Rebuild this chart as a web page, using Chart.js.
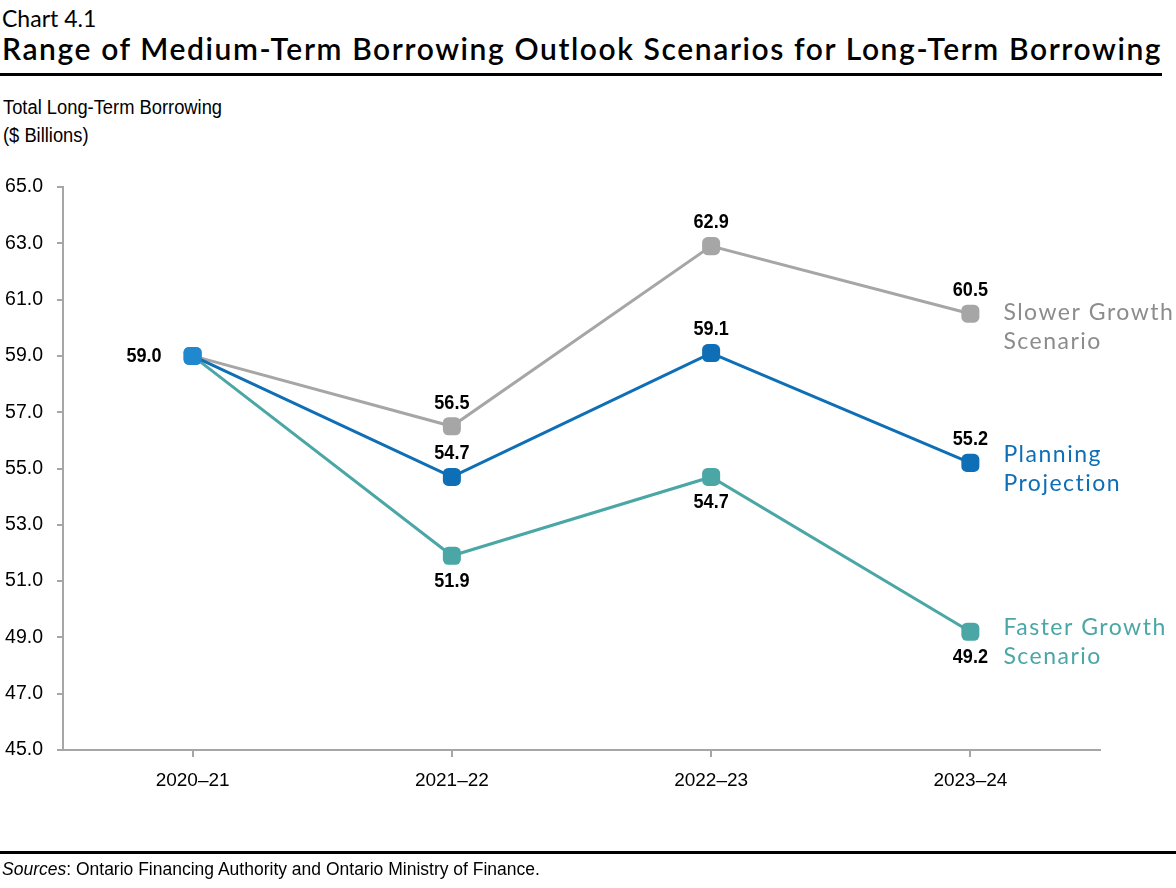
<!DOCTYPE html>
<html>
<head>
    <title>Chart 4.1</title>
    <script src="https://cdn.jsdelivr.net/npm/chart.js@4"></script>
    <style>
        body { margin: 0; background: #fff; font-family: "Liberation Sans", Arial, sans-serif; }
        .page { position: relative; width: 1176px; height: 888px; overflow: hidden; }
        .num { position: absolute; left: 2px; top: 4px; font-family: Lato, "Open Sans", sans-serif; font-size: 23px; color: #000; }
        .title { position: absolute; left: 2px; top: 30px; font-family: Lato, "Open Sans", sans-serif; font-size: 30px; letter-spacing: 1.6px; font-weight: 600; color: #000; white-space: nowrap; }
        .rule { position: absolute; left: 0; width: 1162px; height: 3px; background: #000; }
        .ylab { position: absolute; left: 3px; top: 93px; font-size: 19.5px; line-height: 28px; color: #000; transform: scaleX(0.94); transform-origin: left; }
        .src { position: absolute; left: 2px; top: 859px; font-size: 17.5px; color: #000; }
        .chart-box { position: absolute; left: 0; top: 0; width: 1176px; height: 888px; }
    </style>
</head>
<body>
<div class="page">
    <div class="num">Chart 4.1</div>
    <div class="title">Range of Medium-Term Borrowing Outlook Scenarios for Long-Term Borrowing</div>
    <div class="rule" style="top:73px"></div>
    <div class="ylab">Total Long-Term Borrowing<br>($ Billions)</div>
    <div class="chart-box"><canvas id="lineChart"></canvas></div>
    <div class="rule" style="top:851px; width:1176px"></div>
    <div class="src"><i>Sources</i>: Ontario Financing Authority and Ontario Ministry of Finance.</div>
</div>

<script>
    // data
    const years = ['2020\u201321', '2021\u201322', '2022\u201323', '2023\u201324'];
    const planning = [59.0, 54.7, 59.1, 55.2];
    const slower = [59.0, 56.5, 62.9, 60.5];
    const faster = [59.0, 51.9, 54.7, 49.2];
    const yTicks = [45, 47, 49, 51, 53, 55, 57, 59, 61, 63, 65];

    // value labels next to points and series names at the right end
    const labelPlugin = {
        id: 'labels',
        afterDatasetsDraw(chart) {
            const ctx = chart.ctx;
            chart.data.datasets.forEach((ds, i) => {
                const meta = chart.getDatasetMeta(i);
                meta.data.forEach((pt, j) => {
                    const pos = ds.labelPos[j];
                    if (!pos) return;
                    let x = pt.x, y = pt.y;
                    ctx.save();
                    ctx.font = 'bold 21px "Liberation Sans", Arial, sans-serif';
                    ctx.fillStyle = '#000';
                    if (pos === 'above') { ctx.textAlign = 'center'; ctx.textBaseline = 'bottom'; y -= 13; }
                    else if (pos === 'below') { ctx.textAlign = 'center'; ctx.textBaseline = 'top'; y += 15; }
                    else if (pos === 'left') { ctx.textAlign = 'right'; ctx.textBaseline = 'middle'; x -= 31; }
                    // squeeze the text a bit, like a narrow face
                    ctx.translate(x, y);
                    ctx.scale(0.86, 1);
                    ctx.fillText(ds.data[j].toFixed(1), 0, 0);
                    ctx.restore();
                });
                const last = meta.data[meta.data.length - 1];
                ctx.save();
                ctx.font = '23px Lato, "Open Sans", sans-serif';
                ctx.letterSpacing = '1.5px';
                ctx.fillStyle = ds.nameColor;
                ctx.textAlign = 'left';
                ctx.textBaseline = 'middle';
                ds.nameLines.forEach((t, k) => {
                    ctx.fillText(t, last.x + 33, last.y + ds.nameOffset + k * 29);
                });
                ctx.restore();
            });
        }
    };

    const ctx = document.getElementById('lineChart').getContext('2d');
    new Chart(ctx, {
        type: 'line',
        data: {
            labels: years,
            datasets: [{
                label: 'Planning Projection',
                data: planning,
                borderColor: '#0F6FB6',
                pointBackgroundColor: ['#1F88CE', '#0F6FB6', '#0F6FB6', '#0F6FB6'],
                pointBorderColor: ['#1F88CE', '#0F6FB6', '#0F6FB6', '#0F6FB6'],
                labelPos: ['left', 'above', 'above', 'above'],
                nameLines: ['Planning', 'Projection'],
                nameColor: '#0F6FB6',
                nameOffset: -8
            }, {
                label: 'Slower Growth Scenario',
                data: slower,
                borderColor: '#A6A6A6',
                pointBackgroundColor: '#A6A6A6',
                pointBorderColor: '#A6A6A6',
                labelPos: [null, 'above', 'above', 'above'],
                nameLines: ['Slower Growth', 'Scenario'],
                nameColor: '#8C8C8C',
                nameOffset: -1
            }, {
                label: 'Faster Growth Scenario',
                data: faster,
                borderColor: '#4BA6A6',
                pointBackgroundColor: '#4BA6A6',
                pointBorderColor: '#4BA6A6',
                labelPos: [null, 'below', 'below', 'below'],
                nameLines: ['Faster Growth', 'Scenario'],
                nameColor: '#4BA6A6',
                nameOffset: -4
            }]
        },
        options: {
            responsive: true,
            maintainAspectRatio: false,
            animation: false,
            layout: { padding: { top: 187, right: 76, bottom: 88, left: 0 } },
            elements: {
                line: { borderWidth: 3, tension: 0 },
                point: { pointStyle: 'rectRounded', radius: 10.5, borderWidth: 0 }
            },
            plugins: {
                legend: { display: false },
                tooltip: { enabled: false }
            },
            scales: {
                x: {
                    offset: true,
                    afterFit: s => { s.height = 50; },
                    grid: { drawOnChartArea: false, color: '#A6A6A6', lineWidth: 2, tickLength: 7 },
                    border: { color: '#A6A6A6', width: 2 },
                    ticks: { color: '#000', padding: 12, font: { size: 19, family: '"Liberation Sans", Arial, sans-serif' } }
                },
                y: {
                    min: 45,
                    max: 65,
                    afterFit: s => { s.width = 63; },
                    afterBuildTicks: s => { s.ticks = yTicks.map(v => ({ value: v })); },
                    grid: { drawOnChartArea: false, color: '#A6A6A6', lineWidth: 2, tickLength: 6 },
                    border: { color: '#A6A6A6', width: 2 },
                    ticks: {
                        color: '#000', padding: 14,
                        font: { size: 19.5, family: '"Liberation Sans", Arial, sans-serif' },
                        callback: v => v.toFixed(1)
                    }
                }
            }
        },
        plugins: [labelPlugin]
    });
</script>
</body>
</html>
